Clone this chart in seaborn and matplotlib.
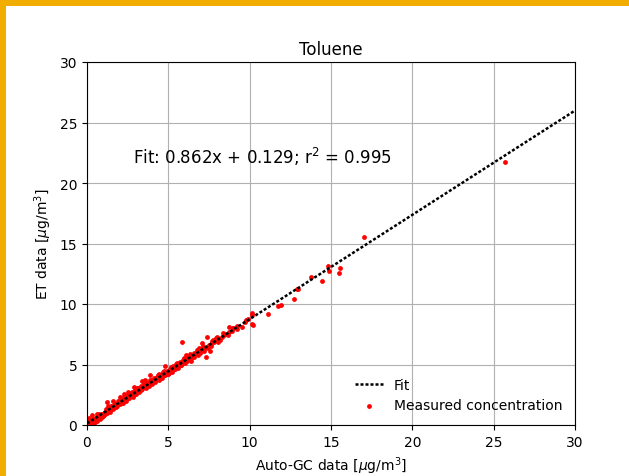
import matplotlib
matplotlib.use("Agg")
import matplotlib.pyplot as plt
import seaborn as sns
import numpy as np
import pandas as pd
from matplotlib.patches import Rectangle

# ---- data ----
auto_gc = [
    0.05, 0.1, 0.12, 0.15, 0.2, 0.25, 0.3, 0.35, 0.4, 0.45, 0.5, 0.55, 0.6, 0.65, 0.7, 0.75,
    0.8, 0.85, 0.9, 0.95, 1.0, 1.05, 1.1, 1.15, 1.2, 1.25, 1.28, 1.3, 1.35, 1.4, 1.45, 1.5,
    1.55, 1.6, 1.65, 1.7, 1.75, 1.8, 1.85, 1.9, 1.95, 2.0, 2.05, 2.1, 2.15, 2.2, 2.25, 2.3,
    2.35, 2.4, 2.45, 2.5, 2.55, 2.6, 2.65, 2.7, 2.8, 2.85, 2.9, 2.95, 3.0, 3.05, 3.1, 3.2,
    3.25, 3.3, 3.4, 3.5, 3.55, 3.6, 3.7, 3.75, 3.8, 3.9, 4.0, 4.05, 4.1, 4.2, 4.25, 4.3,
    4.4, 4.45, 4.5, 4.6, 4.65, 4.7, 4.75, 4.8, 4.9, 5.0, 5.05, 5.1, 5.2, 5.25, 5.3, 5.4,
    5.5, 5.55, 5.6, 5.7, 5.8, 5.85, 5.9, 6.0, 6.1, 6.2, 6.3, 6.4, 6.45, 6.5, 6.6, 6.75,
    6.8, 6.9, 7.0, 7.1, 7.2, 7.3, 7.35, 7.4, 7.5, 7.55, 7.6, 7.7, 7.8, 8.0, 8.1, 8.3,
    8.4, 8.5, 8.7, 8.7, 8.9, 9.0, 9.2, 9.5, 9.7, 9.8, 9.9, 10.15, 10.15, 10.15, 10.2, 11.1,
    11.75, 11.9, 12.7, 12.9, 13.0, 13.8, 14.45, 14.8, 14.9, 15.5, 15.55, 17.0, 25.7,
    0.2, 0.3, 0.4, 0.6, 0.7, 0.8, 0.9, 1.0, 1.1, 1.2, 1.3, 1.4, 1.5, 1.6, 1.7, 1.8,
    1.9, 2.0, 2.1, 2.2, 2.3, 2.4, 2.5, 2.6, 2.7, 2.8, 2.9, 3.0, 3.1, 3.2, 3.3, 3.4,
    3.5, 3.6, 3.7, 3.8, 3.9, 4.0, 4.1, 4.2, 4.3, 4.4, 4.5, 4.6, 4.7, 4.8, 4.9, 5.0,
    5.1, 5.2, 5.3, 5.4, 5.5, 5.6, 5.7, 5.8, 5.9, 6.0, 6.2, 6.4, 6.6, 6.8, 7.0, 7.2,
    7.6, 8.0, 8.2,
    0.15, 0.35, 0.55, 0.75, 0.95, 1.15, 1.35, 1.55, 1.75, 1.95, 2.15, 2.35, 2.55, 2.75, 2.95, 3.15,
    3.35, 3.55, 3.75, 3.95, 4.15, 4.35, 4.55, 4.75, 4.95, 5.15, 5.35, 5.55, 5.75, 5.95, 6.15, 6.35,
    6.55, 6.75, 6.95, 7.15, 7.45, 7.75, 8.05, 8.35, 8.65, 8.95, 9.25,
    0.3, 0.6, 1.6, 2.3, 2.9, 3.4, 3.9, 4.8, 6.1, 7.9,
]
et_data = [
    0.15, 0.6, 0.3, 0.1, 0.45, 0.2, 0.35, 0.15, 0.5, 0.3, 0.25, 0.55, 0.4, 0.6, 0.5, 0.7,
    0.65, 0.8, 0.7, 0.95, 0.9, 0.85, 1.05, 1.0, 1.2, 1.9, 1.6, 1.15, 1.3, 1.25, 1.4, 1.35,
    1.5, 1.45, 1.55, 1.6, 1.65, 1.7, 1.6, 1.75, 1.8, 1.85, 2.3, 1.9, 2.0, 2.05, 2.0, 2.1,
    2.2, 2.15, 2.3, 2.25, 2.7, 2.35, 2.4, 2.45, 2.5, 2.6, 2.55, 2.7, 2.75, 3.0, 2.8, 2.9,
    3.05, 3.0, 3.1, 3.15, 3.7, 3.25, 3.3, 3.45, 3.4, 3.5, 3.55, 3.7, 3.65, 3.75, 3.85, 3.8,
    3.9, 4.2, 4.0, 4.05, 4.15, 4.2, 4.1, 4.25, 4.35, 4.45, 4.3, 4.5, 4.55, 4.7, 4.65, 4.7,
    4.85, 5.0, 4.9, 5.0, 5.1, 6.85, 5.15, 5.25, 5.4, 5.45, 5.5, 5.3, 5.7, 5.75, 5.8, 5.9,
    6.0, 6.4, 6.1, 6.8, 6.3, 5.6, 6.45, 7.3, 6.6, 6.1, 6.7, 6.95, 6.85, 7.0, 7.1, 7.3,
    7.4, 7.5, 7.7, 8.1, 7.8, 8.0, 8.2, 8.1, 8.5, 8.7, 8.8, 8.35, 9.1, 9.25, 8.3, 9.2,
    9.8, 9.9, 10.4, 11.2, 11.2, 12.2, 11.9, 13.1, 12.7, 12.6, 13.0, 15.5, 21.7,
    0.05, 0.1, 0.2, 0.3, 0.75, 0.5, 0.9, 0.75, 0.9, 1.0, 1.4, 1.1, 1.55, 1.3, 1.75, 1.5,
    1.95, 1.7, 2.1, 1.85, 2.3, 2.0, 2.45, 2.2, 2.65, 2.35, 2.8, 2.6, 3.05, 2.75, 3.2, 2.95,
    3.35, 3.05, 3.5, 3.25, 3.7, 3.4, 3.85, 3.6, 4.0, 3.75, 4.15, 3.9, 4.35, 4.1, 4.5, 4.25,
    4.65, 4.4, 4.85, 4.6, 5.05, 4.75, 5.2, 4.95, 5.35, 5.1, 5.6, 5.55, 5.95, 5.75, 6.3, 6.15,
    6.5, 7.25, 7.0,
    0.1, 0.5, 0.45, 0.9, 0.8, 1.3, 1.15, 1.6, 1.5, 2.0, 1.85, 2.35, 2.2, 2.7, 2.55, 3.05,
    2.9, 3.4, 3.2, 3.75, 3.55, 4.1, 3.9, 4.45, 4.25, 4.8, 4.6, 5.15, 4.95, 5.5, 5.3, 5.85,
    5.6, 6.2, 5.95, 6.55, 6.4, 7.05, 6.9, 7.6, 7.4, 8.05, 7.9,
    0.8, 0.9, 2.0, 2.6, 3.1, 3.6, 4.1, 4.9, 5.8, 7.2,
]
fit_slope = 0.862
fit_intercept = 0.129
r_squared = 0.995
fit_x = [0, 30]
ticks = [0, 5, 10, 15, 20, 25, 30]

# ---- style ----
sns.set_style("ticks")
plt.rcParams["font.family"] = ["DejaVu Sans"]
plt.rcParams["mathtext.fontset"] = "dejavusans"
plt.rcParams["text.color"] = "black"
plt.rcParams["axes.labelcolor"] = "black"
plt.rcParams["xtick.color"] = "black"
plt.rcParams["ytick.color"] = "black"

fig = plt.figure(figsize=(6.29, 4.77), dpi=100)
W, H = 629, 477
ax = fig.add_axes([87 / W, (477 - 426) / H, (575 - 87) / W, (426 - 63) / H])

# orange frame in the picture
fig.patches.append(Rectangle((0, 1 - 7 / H), 1, 7 / H, transform=fig.transFigure,
                             facecolor="#F2AE00", edgecolor="none", zorder=10))
fig.patches.append(Rectangle((0, 0), 6 / W, 1, transform=fig.transFigure,
                             facecolor="#F2AE00", edgecolor="none", zorder=10))

fit_df = pd.DataFrame({"x": fit_x,
                       "y": [fit_slope * v + fit_intercept for v in fit_x]})
pts = pd.DataFrame({"x": auto_gc, "y": et_data})

sns.lineplot(data=fit_df, x="x", y="y", ax=ax, color="black", linestyle=(0, (1.2, 0.8)),
             linewidth=1.8, label="Fit", zorder=3)
sns.scatterplot(data=pts, x="x", y="y", ax=ax, color="red", s=12, linewidth=0,
                label="Measured concentration", zorder=2)

ax.set_xlim(0, 30)
ax.set_ylim(0, 30)
ax.set_xticks(ticks)
ax.set_yticks(ticks)
ax.grid(True, color="#b0b0b0", linewidth=0.8)
ax.tick_params(labelsize=10, color="black", length=3.5, width=0.8)
for sp in ax.spines.values():
    sp.set_visible(True)
    sp.set_color("black")
    sp.set_linewidth(0.8)

ax.set_title("Toluene", fontsize=12)
ax.set_xlabel(r"Auto-GC data [$\mu$g/m$^3$]", fontsize=10)
ax.set_ylabel(r"ET data [$\mu$g/m$^3$]", fontsize=10)
ax.text(2.8, 22.2, f"Fit: {fit_slope}x + {fit_intercept}; r$^2$ = {r_squared}",
        fontsize=12, va="center", ha="left")

leg = ax.legend(loc="lower right", frameon=False, fontsize=10)

fig.savefig("out.png", dpi=100)
